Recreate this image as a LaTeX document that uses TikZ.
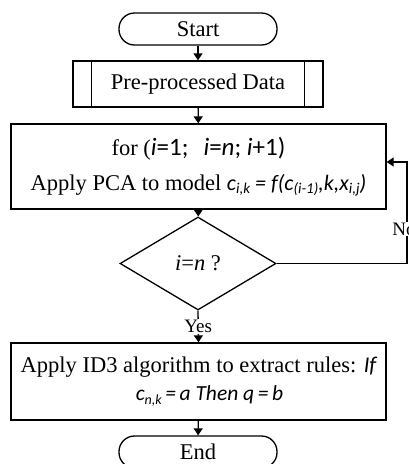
\documentclass[tikz,border=0pt]{standalone}
\usepackage{fontspec}
\setmainfont{Liberation Serif}
\newfontfamily\calfont{Carlito}
\usetikzlibrary{shapes.geometric,arrows.meta}
\newcommand{\csub}[2][14]{\raisebox{-0.35ex}{\fontsize{#1}{#1}\selectfont #2}}
\begin{document}
\begin{tikzpicture}[x=1pt,y=-1pt,
  every node/.style={font=\fontsize{22.5}{27}\selectfont},
  line/.style={line width=1.3pt},
  arr/.style={line width=1.3pt,-{Triangle[width=9pt,length=7pt]}},
  term/.style={draw,line width=1.3pt,rounded corners=15.5pt,minimum width=158pt,minimum height=32pt,inner sep=0pt},
  proc/.style={draw,line width=1.3pt,inner sep=0pt,align=center},
  dec/.style={draw,diamond,line width=1.3pt,minimum width=156pt,minimum height=93pt,aspect=1.68,inner sep=0pt},
  lbl/.style={font=\fontsize{19}{22}\selectfont,fill=white,inner sep=1pt}
]
\useasboundingbox (0,0) rectangle (408,464);
\node[term] (start) at (198,29) {Start};
\node[proc,minimum width=250pt,minimum height=46pt] (pre) at (198,84) {Pre-processed Data};
\draw[line] ([xshift=19pt]pre.north west) -- ([xshift=19pt]pre.south west);
\draw[line] ([xshift=-19pt]pre.north east) -- ([xshift=-19pt]pre.south east);
\node[proc,minimum width=375pt,minimum height=85pt] (loop) at (198.5,166.5)
  {for ({\calfont\fontsize{25}{27}\selectfont\itshape i\upshape=1;\hspace{0.6em}\itshape i\upshape=\itshape n\upshape; \itshape i\upshape+1)}\\[8pt]
   Apply PCA to model {\calfont\fontsize{22}{27}\selectfont\itshape c\csub[15]{i,k} = f(c\csub[15]{(i-1)},k,x\csub[15]{i,j})}};
\node[dec] (dec) at (198,263.5) {\textit{i}=\textit{n} ?};
\node[proc,minimum width=375pt,minimum height=77pt] (rule) at (198.5,381.5)
  {Apply ID3 algorithm to extract rules: {\calfont\itshape If}\\[1pt]
   \hspace{22pt}{\calfont\fontsize{21.5}{27}\selectfont\itshape c\csub{n,k}\,=\,a Then q\,=\,b}};
\node[term] (end) at (198,452) {End};
\coordinate (rt) at (407,0);
\draw[arr] (start) -- (pre);
\draw[arr] (pre) -- (loop);
\draw[arr] (loop) -- (dec);
\draw[arr] (dec.south) -- node[lbl] (yes) {Yes} (rule.north);
\draw[arr] (rule) -- (end);
\draw[arr] (dec.east) -- (dec.east -| rt) -- ([yshift=4.5pt]loop.east -| rt) -- ([yshift=4.5pt]loop.east);
\node[lbl] (no) at (404,229) {No};
\end{tikzpicture}
\end{document}
